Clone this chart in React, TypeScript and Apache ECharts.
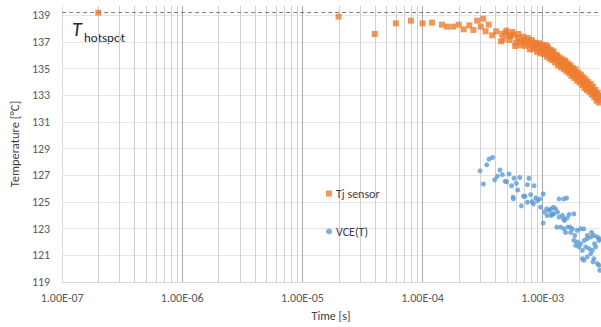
import React, { useEffect, useRef } from "react";
import * as echarts from "echarts";

// ---- data ----
const tjSensor: [number, number][] = [
  [2e-7, 139.2], [2.0e-5, 138.9], [4.0e-5, 137.6], [6.0e-5, 138.4], [8.0e-5, 138.6],
  [1.0e-4, 138.4], [1.2e-4, 138.45], [1.45e-4, 138.3], [1.6e-4, 138.15], [1.8e-4, 138.15],
  [2.0e-4, 138.3], [2.2e-4, 137.95], [2.45e-4, 138.25], [2.65e-4, 137.9], [2.85e-4, 138.6],
  [3.05e-4, 138.15], [3.2e-4, 138.75], [3.35e-4, 137.8], [3.55e-4, 138.3], [3.8e-4, 137.5],
  [4.1e-4, 137.8], [4.5e-4, 137.05], [4.6e-4, 137.6], [4.9e-4, 137.7], [5.2e-4, 137.5],
  [5.4e-4, 137.45], [5.7e-4, 137.55], [5.9e-4, 136.7], [6.2e-4, 137.3], [6.5e-4, 137.1],
  [6.8e-4, 137.0], [7.0e-4, 137.15], [7.3e-4, 136.9], [7.6e-4, 137.05], [7.9e-4, 136.8],
  [8.2e-4, 136.95], [8.5e-4, 136.6], [8.8e-4, 136.75], [9.1e-4, 136.85], [9.4e-4, 136.4],
  [9.7e-4, 136.6], [1.0e-3, 136.5], [1.03e-3, 136.2], [1.06e-3, 136.45], [1.09e-3, 136.7],
  [1.12e-3, 136.1], [1.15e-3, 136.35], [1.18e-3, 136.0], [1.21e-3, 136.2], [1.25e-3, 135.9],
  [1.28e-3, 135.75], [1.32e-3, 135.95], [1.36e-3, 135.6], [1.40e-3, 135.45], [1.44e-3, 135.65],
  [1.48e-3, 135.35], [1.52e-3, 135.5], [1.56e-3, 135.15], [1.60e-3, 135.3], [1.64e-3, 135.0],
  [1.68e-3, 135.15], [1.72e-3, 134.8], [1.76e-3, 134.95], [1.80e-3, 134.6], [1.85e-3, 134.75],
  [1.90e-3, 134.45], [1.95e-3, 134.3], [2.00e-3, 134.45], [2.05e-3, 134.15], [2.10e-3, 134.3],
  [2.15e-3, 133.95], [2.20e-3, 134.05], [2.25e-3, 133.8], [2.30e-3, 133.9], [2.36e-3, 133.6],
  [2.42e-3, 133.75], [2.48e-3, 133.45], [2.54e-3, 133.55], [2.60e-3, 133.25], [2.66e-3, 133.35],
  [2.72e-3, 133.05], [2.78e-3, 133.15], [2.84e-3, 132.8], [2.90e-3, 132.95], [2.96e-3, 132.65],
  [2.99e-3, 132.9],
  [4.7e-4, 137.2], [5.0e-4, 137.85], [5.3e-4, 137.15], [5.6e-4, 137.75], [6.0e-4, 136.95],
  [6.3e-4, 137.6], [6.6e-4, 136.75], [6.9e-4, 137.4], [7.2e-4, 136.7], [7.5e-4, 137.3],
  [7.8e-4, 136.45], [8.1e-4, 137.15], [8.4e-4, 136.45], [8.7e-4, 136.95], [9.0e-4, 136.25],
  [9.3e-4, 136.9], [9.6e-4, 136.15], [9.9e-4, 136.8], [1.02e-3, 136.1], [1.05e-3, 136.75],
  [1.08e-3, 135.9], [1.11e-3, 136.55], [1.14e-3, 135.75], [1.17e-3, 136.4], [1.20e-3, 135.65],
  [1.23e-3, 136.3], [1.27e-3, 135.45], [1.30e-3, 136.05], [1.34e-3, 135.25], [1.38e-3, 135.85],
  [1.42e-3, 135.1], [1.46e-3, 135.7], [1.50e-3, 134.95], [1.54e-3, 135.6], [1.58e-3, 134.8],
  [1.62e-3, 135.4], [1.66e-3, 134.65], [1.70e-3, 135.25], [1.74e-3, 134.45], [1.78e-3, 135.05],
  [1.83e-3, 134.3], [1.88e-3, 134.95], [1.93e-3, 134.1], [1.98e-3, 134.7], [2.03e-3, 133.95],
  [2.08e-3, 134.55], [2.13e-3, 133.75], [2.18e-3, 134.35], [2.23e-3, 133.55], [2.28e-3, 134.2],
  [2.33e-3, 133.4], [2.39e-3, 134.0], [2.45e-3, 133.25], [2.51e-3, 133.85], [2.57e-3, 133.05],
  [2.63e-3, 133.65], [2.69e-3, 132.85], [2.75e-3, 133.4], [2.81e-3, 132.6], [2.87e-3, 133.2],
  [2.93e-3, 132.45], [2.97e-3, 132.95],
];

const vceT: [number, number][] = [
  [3.01e-4, 127.34], [3.21e-4, 126.35], [3.42e-4, 127.79], [3.57e-4, 128.22], [3.82e-4, 128.34],
  [3.99e-4, 126.67], [4.20e-4, 126.93], [4.41e-4, 127.40], [4.62e-4, 127.05], [4.86e-4, 126.55],
  [5.02e-4, 126.52], [5.25e-4, 127.10], [5.50e-4, 126.22], [5.67e-4, 125.36], [5.77e-4, 126.78],
  [6.04e-4, 126.40], [6.19e-4, 125.90], [6.44e-4, 126.84], [6.65e-4, 124.71], [6.92e-4, 125.43],
  [7.13e-4, 125.43], [7.46e-4, 126.30], [7.69e-4, 126.78], [7.94e-4, 125.55], [8.15e-4, 125.03],
  [8.37e-4, 124.86], [8.47e-4, 126.22], [8.75e-4, 125.30], [9.04e-4, 125.10], [9.44e-4, 125.23],
  [1.01e-3, 125.60], [9.62e-4, 124.61], [1.03e-3, 124.24], [1.01e-3, 123.42], [1.08e-3, 124.49],
  [1.13e-3, 124.36], [1.17e-3, 124.49], [1.23e-3, 124.61], [1.28e-3, 124.49], [1.09e-3, 123.99],
  [1.18e-3, 123.99], [1.24e-3, 124.11], [1.37e-3, 125.23], [1.50e-3, 125.23], [1.58e-3, 125.30],
  [1.46e-3, 123.99], [1.49e-3, 123.74], [1.52e-3, 123.61], [1.82e-3, 124.11], [1.66e-3, 124.06],
  [1.60e-3, 123.81], [1.31e-3, 123.12], [1.41e-3, 123.12], [1.50e-3, 122.99], [1.62e-3, 123.12],
  [1.69e-3, 123.12], [1.77e-3, 122.99], [1.94e-3, 122.87], [2.07e-3, 122.99], [2.20e-3, 122.99],
  [1.82e-3, 122.12], [1.94e-3, 122.00], [2.07e-3, 121.87], [2.22e-3, 122.12], [2.35e-3, 122.25],
  [2.51e-3, 122.37], [2.67e-3, 122.49], [2.85e-3, 122.37], [2.94e-3, 122.12], [1.88e-3, 121.75],
  [2.00e-3, 121.63], [2.14e-3, 121.37], [2.28e-3, 121.63], [2.43e-3, 121.50], [2.59e-3, 121.37],
  [2.76e-3, 121.63], [2.14e-3, 120.75], [2.20e-3, 120.63], [2.51e-3, 121.13], [2.67e-3, 120.75],
  [2.85e-3, 120.38], [2.94e-3, 120.25], [2.99e-3, 119.88], [1.55e-3, 122.72], [1.71e-3, 122.72],
  [1.85e-3, 122.49], [2.35e-3, 122.49], [2.55e-3, 122.72], [2.98e-3, 122.25], [2.35e-3, 120.88],
  [2.62e-3, 120.51], [2.70e-3, 121.87], [1.20e-3, 124.11], [1.33e-3, 124.24], [1.37e-3, 123.87],
  [7.46e-4, 124.98], [5.70e-4, 125.23],
];

const tHotspot = 139.2;
const xMin = 1e-7;
const xMax = 3e-3;
const yMin = 119;
const yMax = 139.7;
const yStep = 2;
const minorMultipliers = [2, 3, 4, 5, 6, 7, 8, 9];
const decades = [-7, -6, -5, -4, -3];

const FONT = "Carlito, 'Liberation Sans', Arial, sans-serif";

function fmtSci(v: number): string {
  const e = Math.floor(Math.log10(v) + 1e-9);
  const m = v / Math.pow(10, e);
  const sign = e < 0 ? "-" : "+";
  return m.toFixed(2) + "E" + sign + String(Math.abs(e)).padStart(2, "0");
}

export default function App() {
  const ref = useRef<HTMLDivElement>(null);
  useEffect(() => {
    if (!ref.current) return;
    const chart = echarts.init(ref.current, undefined, { renderer: "svg" });
    const minorGrid: [number, number][] = [];
    decades.forEach((d) =>
      minorMultipliers.forEach((m) => {
        const v = m * Math.pow(10, d);
        if (v < xMax * 0.999) minorGrid.push([v, yMin]);
      })
    );
    chart.setOption({
      animation: false,
      grid: { left: 61, right: 1, top: 6, bottom: 43.5, containLabel: false },
      legend: {
        orient: "vertical",
        left: 321,
        top: 181,
        itemGap: 23,
        itemWidth: 6,
        itemHeight: 6,
        itemStyle: { borderWidth: 0 },
        textStyle: { fontFamily: FONT, fontSize: 12, color: "#404040", lineHeight: 15, padding: [0, 0, 0, -1] },
        data: [
          { name: "Tj sensor", icon: "rect" },
          { name: "VCE(T)", icon: "circle" },
        ],
      },
      xAxis: {
        type: "log",
        logBase: 10,
        min: xMin,
        max: xMax,
        name: "Time [s]",
        nameLocation: "middle",
        nameGap: 28,
        nameTextStyle: { fontFamily: FONT, fontSize: 12, color: "#404040" },
        axisLine: { show: true, lineStyle: { color: "#d9d9d9", width: 1 } },
        axisTick: { show: false },
        axisLabel: {
          fontFamily: FONT,
          fontSize: 12,
          color: "#595959",
          margin: 10,
          showMaxLabel: false,
          formatter: (v: number) => fmtSci(v),
        },
        splitLine: {
          show: true,
          showMinLine: false,
          showMaxLine: false,
          lineStyle: { color: "#a6a6a6", width: 1 },
        },
      },
      yAxis: {
        type: "value",
        min: yMin,
        max: yMax,
        interval: yStep,
        name: "Temperature [°C]",
        nameLocation: "middle",
        nameGap: 31,
        nameTextStyle: { fontFamily: FONT, fontSize: 12.5, color: "#404040" },
        axisLine: { show: true, lineStyle: { color: "#d9d9d9" } },
        axisTick: { show: false },
        axisLabel: {
          fontFamily: FONT,
          fontSize: 12,
          color: "#595959",
          margin: 12,
          showMaxLabel: false,
        },
        splitLine: {
          show: true,
          showMinLine: false,
          showMaxLine: false,
          lineStyle: { color: "#e6e6e6", width: 1 },
        },
      },
      series: [
        {
          name: "minorGrid",
          type: "custom",
          data: minorGrid,
          encode: { x: 0, y: 1 },
          z: 1,
          silent: true,
          clip: false,
          renderItem: (params: any, api: any) => {
            const v = api.value(0);
            const p1 = api.coord([v, yMin]);
            const p2 = api.coord([v, yMax]);
            const x = Math.round(p1[0]) + 0.5;
            return {
              type: "line",
              shape: { x1: x, y1: p1[1], x2: x, y2: p2[1] },
              style: { stroke: "#d0d0d0", lineWidth: 1 },
              silent: true,
            };
          },
        },
        {
          name: "hotspot",
          type: "scatter",
          data: [[xMin, yMin]],
          symbolSize: 0,
          z: 1,
          silent: true,
          markLine: {
            silent: true,
            symbol: ["none", "none"],
            label: { show: false },
            lineStyle: { color: "#7f7f7f", width: 1, type: [4, 3] },
            emphasis: { disabled: true },
            data: [{ yAxis: tHotspot }],
          },
        },
        {
          name: "Tj sensor",
          type: "scatter",
          symbol: "rect",
          symbolSize: 6,
          itemStyle: { color: "#ed7d31" },
          data: tjSensor,
          z: 3,
        },
        {
          name: "VCE(T)",
          type: "scatter",
          symbol: "circle",
          symbolSize: 5,
          itemStyle: { color: "#5b9bd5" },
          data: vceT,
          z: 3,
        },
      ],
      graphic: [
        {
          type: "text",
          left: 72,
          top: 19,
          style: { text: "T", fontFamily: FONT, fontSize: 20, fontStyle: "italic", fill: "#262626" },
        },
        {
          type: "text",
          left: 84,
          top: 31,
          style: { text: "hotspot", fontFamily: FONT, fontSize: 13, fill: "#262626" },
        },
      ],
    });
    return () => chart.dispose();
  }, []);
  return (
    <div
      ref={ref}
      style={{ position: "fixed", left: 0, top: 0, width: 601, height: 327, background: "#fff" }}
    />
  );
}
